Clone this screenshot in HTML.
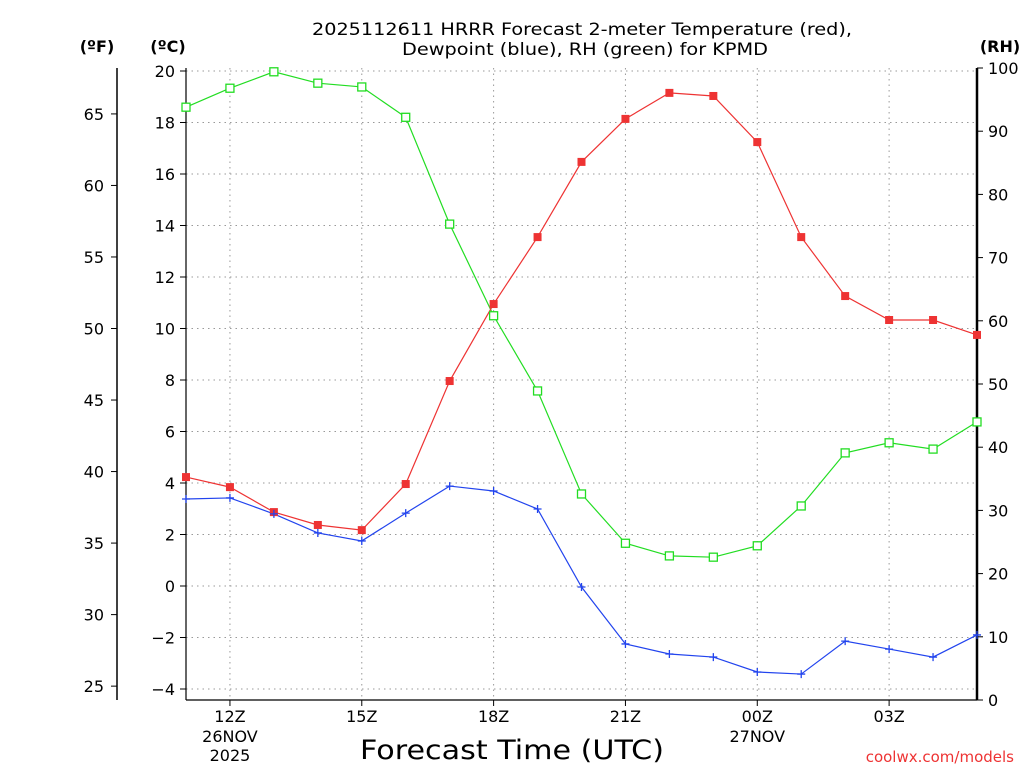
<!DOCTYPE html>
<html><head><meta charset="utf-8"><style>
html,body{margin:0;padding:0;background:#fff;}
svg{display:block;font-family:"DejaVu Sans","Liberation Sans",sans-serif;}
</style></head><body>
<svg id="chart" width="1024" height="768" viewBox="0 0 1024 768" xmlns="http://www.w3.org/2000/svg">
<text x="312" y="35" font-size="17" textLength="540" lengthAdjust="spacingAndGlyphs" fill="#000">2025112611 HRRR Forecast 2-meter Temperature (red),</text>
<text x="402" y="55" font-size="17" textLength="366" lengthAdjust="spacingAndGlyphs" fill="#000">Dewpoint (blue), RH (green) for KPMD</text>
<text x="97" y="52" font-size="16" font-weight="bold" text-anchor="middle">(ºF)</text>
<text x="168" y="52" font-size="16" font-weight="bold" text-anchor="middle">(ºC)</text>
<text x="1000" y="52" font-size="16" font-weight="bold" text-anchor="middle">(RH)</text>
<text x="360" y="759" font-size="27" textLength="304" lengthAdjust="spacingAndGlyphs">Forecast Time (UTC)</text>
<text x="1014" y="762" font-size="15" fill="#e33" text-anchor="end">coolwx.com/models</text>
<g id="grid"></g><g id="axes"></g><g id="series"></g>
</svg>
<script>
const hours = ["11","12","13","14","15","16","17","18","19","20","21","22","23","00","01","02","03","04","05"];
const xTickLabels = ["12Z","15Z","18Z","21Z","00Z","03Z"];
const xTickIdx = [1,4,7,10,13,16];
const xSubLabels = {"12Z":["26NOV","2025"],"00Z":["27NOV"]};
const tempC = [4.23,3.84,2.87,2.37,2.17,3.96,7.96,10.95,13.55,16.47,18.14,19.15,19.03,17.24,13.55,11.26,10.33,10.33,9.75];
const dewC = [3.38,3.42,2.80,2.06,1.75,2.83,3.88,3.69,2.99,-0.04,-2.25,-2.64,-2.76,-3.34,-3.42,-2.14,-2.45,-2.76,-1.90];
const rh = [93.8,96.8,99.4,97.6,97.0,92.2,75.3,60.8,48.9,32.6,24.8,22.8,22.6,24.4,30.7,39.1,40.7,39.7,44.0];
const cTicks = [-4,-2,0,2,4,6,8,10,12,14,16,18,20];
const fTicks = [25,30,35,40,45,50,55,60,65];
const rhTicks = [0,10,20,30,40,50,60,70,80,90,100];

const NS="http://www.w3.org/2000/svg";
const X0=186,X1=977,Y0=68,Y1=700;
const xs=i=>X0+i*(X1-X0)/(hours.length-1);
const yC=c=>586-c*25.75;
const yF=f=>yC((f-32)*5/9);
const yR=r=>Y1-r*(Y1-Y0)/100;
function mk(tag,attrs,parent,txt){const e=document.createElementNS(NS,tag);for(const k in attrs)e.setAttribute(k,attrs[k]);if(txt!==undefined)e.textContent=txt;parent.appendChild(e);return e;}
const grid=document.getElementById('grid'),axes=document.getElementById('axes'),ser=document.getElementById('series');
cTicks.forEach(c=>{
  const y=yC(c);
  const g=mk('line',{x1:X0,x2:X1,y1:y,y2:y,stroke:'#999','stroke-dasharray':'1.5,4'},grid);
  
  
  mk('line',{x1:X0-6,x2:X0,y1:y,y2:y,stroke:'#000'},axes);
  const t=mk('text',{x:X0-11,y:y+6,'font-size':16,'text-anchor':'end'},axes,c<0?'\u2212'+(-c):String(c));
  
  
});
fTicks.forEach(f=>{
  const y=yF(f);
  mk('line',{x1:111,x2:117,y1:y,y2:y,stroke:'#000'},axes);
  const t=mk('text',{x:104,y:y+6,'font-size':16,'text-anchor':'end'},axes,String(f));
  
  
});
rhTicks.forEach(r=>{
  const y=yR(r);
  mk('line',{x1:X1,x2:X1+6,y1:y,y2:y,stroke:'#000'},axes);
  const t=mk('text',{x:988,y:y+6,'font-size':16},axes,String(r));
  
  
});
xTickIdx.forEach((i,k)=>{
  const x=xs(i);
  const g=mk('line',{x1:x,x2:x,y1:Y0,y2:Y1,stroke:'#999','stroke-dasharray':'1.5,4'},grid);
  
  
  mk('line',{x1:x,x2:x,y1:Y1,y2:Y1+6,stroke:'#000'},axes);
  const lab=xTickLabels[k];
  const t=mk('text',{x:x,y:Y1+22,'font-size':16,'text-anchor':'middle'},axes,lab);
  
  
  (xSubLabels[lab]||[]).forEach((s,j)=>mk('text',{x:x,y:Y1+42+j*19,'font-size':16,'text-anchor':'middle'},axes,s));
});
mk('line',{x1:117,x2:117,y1:Y0,y2:Y1,stroke:'#000','stroke-width':1.5},axes);
mk('line',{x1:X0,x2:X0,y1:Y0,y2:Y1,stroke:'#000','stroke-width':1.2},axes);
mk('line',{x1:X0,x2:X1,y1:Y1,y2:Y1,stroke:'#000','stroke-width':1.2},axes);
mk('line',{x1:X1,x2:X1,y1:Y0,y2:Y1,stroke:'#000','stroke-width':2.5},axes);
function line(vals,yf,color,name){
  const p=mk('polyline',{points:vals.map((v,i)=>xs(i)+','+yf(v)).join(' '),fill:'none',stroke:color,'stroke-width':1.2},ser);
  
  
}
line(rh,yR,'#22dd22','rh');
line(tempC,yC,'#ee3333','temperature');
line(dewC,yC,'#2244ee','dewpoint');
rh.forEach((v,i)=>{const m=mk('rect',{x:xs(i)-4,y:yR(v)-4,width:8,height:8,fill:'#fff',stroke:'#22dd22','stroke-width':1.3},ser);
  
  });
tempC.forEach((v,i)=>{const m=mk('rect',{x:xs(i)-4,y:yC(v)-4,width:8,height:8,fill:'#ee3333'},ser);
  
  });
dewC.forEach((v,i)=>{const x=xs(i),y=yC(v);const m=mk('path',{d:`M${x-4},${y}H${x+4}M${x},${y-4}V${y+4}`,stroke:'#2244ee','stroke-width':1.3},ser);
  
  });
</script>
</body></html>
